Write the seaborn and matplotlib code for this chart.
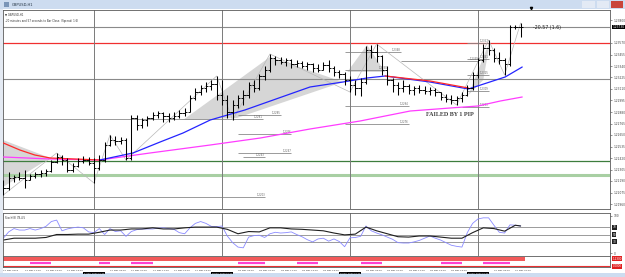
import numpy as np
import pandas as pd
import seaborn as sns
import matplotlib.pyplot as plt
from matplotlib.patches import Rectangle, Polygon
from matplotlib.transforms import blended_transform_factory

# ---- GBPUSD H1 bars, 24 Mar 07:00 -> 30 Mar 08:00 ----
first_open = 1.2215
highs = [1.2220, 1.2228, 1.2225, 1.2228, 1.2230, 1.2226, 1.2228, 1.2230, 1.2231, 1.2240,
         1.2247, 1.2245, 1.2242, 1.2237, 1.2242, 1.2244, 1.2243, 1.2242, 1.2245, 1.2258,
         1.2265, 1.2264, 1.2263, 1.2262, 1.2285, 1.2285, 1.2282, 1.2284, 1.2288, 1.2289,
         1.2288, 1.2287, 1.2288, 1.2290, 1.2292, 1.2305, 1.2312, 1.2315, 1.2318, 1.2320,
         1.2324, 1.2320, 1.2305, 1.2300, 1.2305, 1.2310, 1.2318, 1.2320, 1.2326, 1.2334,
         1.2346, 1.2344, 1.2343, 1.2342, 1.2341, 1.2340, 1.2339, 1.2338, 1.2337, 1.2336,
         1.2338, 1.2340, 1.2334, 1.2330, 1.2328, 1.2324, 1.2320, 1.2322, 1.2354, 1.2355,
         1.2356, 1.2345, 1.2334, 1.2322, 1.2318, 1.2320, 1.2316, 1.2314, 1.2315, 1.2314,
         1.2313, 1.2312, 1.2308, 1.2306, 1.2305, 1.2304, 1.2308, 1.2315, 1.2328, 1.2342,
         1.2356, 1.2360, 1.2352, 1.2348, 1.2342, 1.2375, 1.2375, 1.2377]
lows = [1.2205, 1.2210, 1.2218, 1.2220, 1.2212, 1.2220, 1.2222, 1.2223, 1.2224, 1.2228,
        1.2237, 1.2235, 1.2228, 1.2228, 1.2233, 1.2237, 1.2235, 1.2217, 1.2230, 1.2238,
        1.2254, 1.2255, 1.2256, 1.2240, 1.2240, 1.2270, 1.2272, 1.2274, 1.2280, 1.2282,
        1.2278, 1.2278, 1.2280, 1.2282, 1.2284, 1.2288, 1.2300, 1.2305, 1.2308, 1.2310,
        1.2300, 1.2295, 1.2282, 1.2280, 1.2292, 1.2295, 1.2302, 1.2308, 1.2310, 1.2320,
        1.2328, 1.2335, 1.2336, 1.2334, 1.2332, 1.2333, 1.2332, 1.2330, 1.2328, 1.2328,
        1.2330, 1.2328, 1.2324, 1.2322, 1.2315, 1.2308, 1.2305, 1.2304, 1.2316, 1.2342,
        1.2338, 1.2325, 1.2315, 1.2308, 1.2305, 1.2308, 1.2306, 1.2305, 1.2307, 1.2306,
        1.2305, 1.2304, 1.2300, 1.2298, 1.2296, 1.2295, 1.2298, 1.2304, 1.2310, 1.2322,
        1.2338, 1.2345, 1.2338, 1.2336, 1.2325, 1.2334, 1.2371, 1.2363]
closes = [1.2212, 1.2222, 1.2223, 1.2222, 1.2220, 1.2224, 1.2226, 1.2227, 1.2229, 1.2238,
          1.2243, 1.2240, 1.2230, 1.2234, 1.2239, 1.2240, 1.2237, 1.2232, 1.2240, 1.2255,
          1.2260, 1.2259, 1.2260, 1.2242, 1.2282, 1.2275, 1.2280, 1.2282, 1.2285, 1.2287,
          1.2284, 1.2282, 1.2284, 1.2287, 1.2288, 1.2302, 1.2308, 1.2312, 1.2314, 1.2316,
          1.2305, 1.2300, 1.2288, 1.2295, 1.2302, 1.2305, 1.2315, 1.2312, 1.2324, 1.2330,
          1.2342, 1.2340, 1.2338, 1.2340, 1.2336, 1.2337, 1.2334, 1.2336, 1.2332, 1.2330,
          1.2335, 1.2332, 1.2328, 1.2326, 1.2320, 1.2315, 1.2312, 1.2318, 1.2350, 1.2348,
          1.2344, 1.2330, 1.2320, 1.2315, 1.2312, 1.2314, 1.2310, 1.2312, 1.2310, 1.2309,
          1.2310, 1.2308, 1.2303, 1.2301, 1.2300, 1.2302, 1.2305, 1.2312, 1.2325, 1.2340,
          1.2352, 1.2350, 1.2342, 1.2340, 1.2336, 1.2373, 1.2373, 1.2373]

# moving averages (bar index, price)
blue_idx = [18.1, 24.3, 29.4, 33.7, 38.8, 45.3, 50.6, 57.5, 63.7, 68.2, 71.6, 80.0, 87.2, 94.1, 97.3]
blue_ma = [1.2240, 1.2247, 1.2258, 1.2267, 1.2280, 1.2290, 1.2300, 1.2313, 1.2318, 1.2322,
           1.2324, 1.2318, 1.2311, 1.2323, 1.2333]
red_left_idx = [0, 3.1, 5.9, 8.8, 18.1]
red_left = [1.2257, 1.2250, 1.2245, 1.2242, 1.2240]
red_right_idx = [71.6, 80.0, 87.2]
red_right = [1.2324, 1.2319, 1.2312]
mag_idx = [0, 8.8, 18.1, 27.5, 38.8, 48.2, 57.5, 66.9, 76.3, 83.8, 89.0, 93.2, 97.3]
mag_ma = [1.2243, 1.2241, 1.2240, 1.2247, 1.2255, 1.2262, 1.2271, 1.2279, 1.2289, 1.2292,
          1.2294, 1.2299, 1.2303]

# zigzag swings and shaded legs
zz_idx = [0, 10, 17, 20, 23, 40, 43, 50, 65, 70, 85, 91, 94, 97]
zz_price = [1.2205, 1.2247, 1.2217, 1.2265, 1.2240, 1.2324, 1.2280, 1.2346, 1.2308, 1.2356,
            1.2295, 1.2360, 1.2325, 1.2377]
shades = [
    [(-0.06, 1.2260), (8.8, 1.2242), (-0.06, 1.2213)],
    [(33.7, 1.2280), (50.0, 1.2343), (63.7, 1.2318), (43.8, 1.2282)],
    [(64.5, 1.2328), (68.2, 1.2355), (71.6, 1.2328)],
    [(87.2, 1.2305), (91.3, 1.2360), (90.0, 1.2320)],
]

# horizontal levels
full_levels = [1.2373, 1.2357, 1.2321, 1.2239, 1.2225]
full_colors = ['#8a8a8a', '#f03030', '#8a8a8a', '#3d7d3d', '#a8cfa3']
full_widths = [0.8, 0.9, 0.8, 0.9, 2.2]
seg_price = [1.2281, 1.2203, 1.2348, 1.2330, 1.2294, 1.2276, 1.2285, 1.2266, 1.2247, 1.2243,
             1.2339, 1.2293, 1.2357, 1.2341, 1.2325, 1.2309]
seg_start = [-0.06, -0.06, 64, 64, 64, 64, 44, 44, 44, 45, 74.5, 86, 87, 87, 87, 87]
seg_end = [48.7, 49.1, 74.5, 72, 76, 76, 52, 54, 54, 49, 89, 91, 91, 91, 91, 91]

# oscillator pane
osc_fast = [40, 57, 66, 62, 62, 66, 62, 66, 72, 85, 89, 60, 65, 68, 70, 68, 57, 55, 66, 50,
            66, 58, 60, 45, 58, 63, 65, 65, 65, 67, 68, 66, 64, 55, 52, 68, 80, 85, 80, 72,
            71, 73, 46, 28, 16, 14, 43, 47, 48, 42, 52, 56, 54, 55, 57, 50, 44, 36, 30, 38,
            40, 32, 38, 31, 17, 41, 42, 45, 73, 60, 54, 49, 43, 37, 28, 27, 27, 30, 34, 40,
            46, 40, 35, 28, 21, 18, 16, 55, 80, 92, 95, 95, 75, 56, 54, 76, 75, 73]
slow_idx = list(range(0, 97, 2)) + [97]
osc_slow = [35, 40, 40, 40, 42, 50, 50, 51, 51, 56, 62, 62, 65, 65, 68, 65, 65, 68, 70, 70,
            70, 64, 52, 58, 57, 68, 68, 65, 64, 62, 60, 54, 49, 51, 70, 60, 52, 44, 43, 46,
            46, 43, 40, 40, 55, 68, 66, 59, 75, 73]
osc_levels = [30, 50, 70]

# bottom strip highlights
pink_start = [5, 18, 24, 44, 55, 67, 82, 90]
pink_end = [9, 20, 28, 49, 59, 71, 86, 95]

# axis labels (the ones under the day markers are covered in the original)
price_ticks = [1.23800, 1.23570, 1.23455, 1.23340, 1.23225, 1.23110, 1.22995, 1.22880,
               1.22765, 1.22650, 1.22535, 1.22420, 1.22305, 1.22190, 1.22075, 1.21960]
time_ticks = [0, 4, 8, 12, 20, 24, 28, 32, 36, 44, 48, 52, 56, 60, 68, 72, 76, 80, 84, 92, 96]
time_labels = ['24 Mar 2023', '24 Mar 11:00', '24 Mar 15:00', '24 Mar 19:00',
               '27 Mar 03:00', '27 Mar 07:00', '27 Mar 11:00', '27 Mar 15:00', '27 Mar 19:00',
               '28 Mar 03:00', '28 Mar 07:00', '28 Mar 11:00', '28 Mar 15:00', '28 Mar 19:00',
               '29 Mar 03:00', '29 Mar 07:00', '29 Mar 11:00', '29 Mar 15:00', '29 Mar 19:00',
               '30 Mar 03:00', '30 Mar 07:00']
day_idx = [17, 41, 65, 89]
day_labels = ['27 Mar 2023 00:00', '28 Mar 2023 00:00', '29 Mar 2023 00:00', '30 Mar 2023 00:00']

bars = pd.DataFrame({'high': highs, 'low': lows, 'close': closes})
bars['open'] = [first_open] + closes[:-1]
bars['idx'] = np.arange(len(bars))

sns.set_theme(style='white')
plt.rcParams['font.family'] = ['DejaVu Sans']

W, H = 625, 277
fig = plt.figure(figsize=(W / 100, H / 100), dpi=100)


def px_axes(x0, y0, x1, y1):
    return fig.add_axes([x0 / W, 1 - y1 / H, (x1 - x0) / W, (y1 - y0) / H])


def chrome(x0, y0, x1, y1, color):
    fig.add_artist(Rectangle((x0 / W, 1 - y1 / H), (x1 - x0) / W, (y1 - y0) / H,
                             transform=fig.transFigure, color=color, lw=0, zorder=-5))


# window frame
chrome(0, 0, W, 9, '#cddcf0')
chrome(0, 273, W, H, '#cddcf0')
chrome(0, 9, 3, 273, '#e4eaf3')
chrome(582, 1, 595, 8, '#e3eaf5')
chrome(597, 1, 609, 8, '#e3eaf5')
chrome(611, 1, 623, 8, '#c9453a')
fig.text(12 / W, 1 - 4.8 / H, 'GBPUSD,H1', fontsize=2.6, color='#203040', va='center')
chrome(4, 2, 9, 7, '#7a95b8')

xlim = (-0.06, 113.76)
spine_c = '#5a5a5a'

# ---- main price pane ----
ax = px_axes(3, 10, 610, 209)
for poly in shades:
    ax.add_patch(Polygon(poly, closed=True, color='#d6d6d6', lw=0, zorder=1))
for lvl, c, w in zip(full_levels, full_colors, full_widths):
    ax.axhline(lvl, color=c, lw=w, zorder=2)
ax.hlines(seg_price, seg_start, seg_end, color='#8a8a8a', lw=0.6, zorder=2)
for p, e in zip(seg_price, seg_end):
    ax.text(e, p, f'{p:.4f}', fontsize=1.8, color='#606060', ha='right', va='bottom', zorder=3)
for d in day_idx:
    ax.axvline(d, color='#7a7a7a', lw=0.7, zorder=2)

sns.lineplot(x=zz_idx, y=zz_price, ax=ax, color='#b8b8b8', lw=0.5, zorder=3)
sns.lineplot(x=mag_idx, y=mag_ma, ax=ax, color='#ff3cff', lw=0.9, zorder=4)
sns.lineplot(x=red_left_idx, y=red_left, ax=ax, color='#ff2a2a', lw=0.9, zorder=4)
sns.lineplot(x=blue_idx, y=blue_ma, ax=ax, color='#2424ff', lw=0.9, zorder=4)
sns.lineplot(x=red_right_idx, y=red_right, ax=ax, color='#ff2a2a', lw=0.9, zorder=5)

ax.vlines(bars['idx'], bars['low'], bars['high'], color='black', lw=0.75, zorder=6)
ax.hlines(bars['open'], bars['idx'] - 0.45, bars['idx'], color='black', lw=0.65, zorder=6)
ax.hlines(bars['close'], bars['idx'], bars['idx'] + 0.45, color='black', lw=0.65, zorder=6)

ax.text(79.3, 1.2285, 'FAILED BY 1 PIP', fontsize=4.4, fontweight='bold',
        family=['Liberation Serif', 'DejaVu Serif'], color='#404040', va='center', zorder=7)
ax.text(99.4, 1.2373, '-20.57 (1.6)', fontsize=3.4, color='#202020', va='center', zorder=7)
ax.plot([99], [1.2392], marker='v', ms=1.6, color='black', clip_on=False)
ax.text(0.004, 0.985, '\u25bc GBPUSD,H1', transform=ax.transAxes, fontsize=1.9,
        color='#303030', va='top')
ax.text(0.004, 0.955, '-20 minutes and 57 seconds to Bar Close. (Spread: 1.6)',
        transform=ax.transAxes, fontsize=1.9, color='#303030', va='top')

ax.set_xlim(xlim)
ax.set_ylim(1.2191, 1.2390)
ax.set_xticks([])
ax.yaxis.tick_right()
ax.set_yticks(price_ticks)
ax.set_yticklabels([f'{v:.5f}' for v in price_ticks])
ax.tick_params(axis='y', labelsize=2.1, length=1.5, width=0.4, pad=1, colors='#404040', right=True)
ax.set_xlabel('')
ax.set_ylabel('')
ybox = blended_transform_factory(ax.transAxes, ax.transData)
ax.text(1.004, 1.2373, '1.23730', transform=ybox, fontsize=2.1, color='white', va='center',
        bbox=dict(boxstyle='square,pad=0.15', fc='black', ec='none'), clip_on=False)

# ---- oscillator pane ----
ai = px_axes(3, 213, 610, 256)
for lv in osc_levels:
    ai.axhline(lv, color='#8a8a8a', lw=0.6)
for d in day_idx:
    ai.axvline(d, color='#7a7a7a', lw=0.7)
sns.lineplot(x=bars['idx'], y=osc_fast, ax=ai, color='#8a8aff', lw=0.6)
sns.lineplot(x=slow_idx, y=osc_slow, ax=ai, color='#202020', lw=0.8)
ai.text(0.004, 0.93, 'Stoch(8) 78,4,5', transform=ai.transAxes, fontsize=1.9,
        color='#303030', va='top')
ai.set_xlim(xlim)
ai.set_ylim(-8.1, 108.1)
ai.set_xticks([])
ai.yaxis.tick_right()
ai.set_yticks([0, 100])
ai.tick_params(axis='y', labelsize=2.1, length=1.5, width=0.4, pad=1, colors='#404040', right=True)
ai.set_xlabel('')
ai.set_ylabel('')
obox = blended_transform_factory(ai.transAxes, ai.transData)
for lv in osc_levels:
    ai.text(1.004, lv, f'{lv}', transform=obox, fontsize=2.1, color='white', va='center',
            bbox=dict(boxstyle='square,pad=0.15', fc='#202020', ec='none'), clip_on=False)

# ---- bottom strip ----
ab = px_axes(3, 256, 610, 267)
ab.axhspan(0.55, 0.95, xmin=0, xmax=0.86, color='#f25a5a', lw=0)
ab.axhline(0.1, color='#e83030', lw=0.8)
ab.hlines([0.32] * len(pink_start), pink_start, pink_end, color='#ff40d0', lw=1.6)
ab.set_xlim(xlim)
ab.set_ylim(0, 1)
ab.set_yticks([])
ab.set_xticks(time_ticks)
ab.set_xticklabels(time_labels, ha='left')
ab.tick_params(axis='x', labelsize=1.7, length=0, pad=2, colors='#303030')
ab.set_xlabel('')
btr = blended_transform_factory(ab.transData, ab.transAxes)
for d, lab in zip(day_idx, day_labels):
    ab.text(d, -0.55, lab, transform=btr, fontsize=1.5, color='white', ha='center', va='center',
            bbox=dict(boxstyle='square,pad=0.2', fc='black', ec='none'), clip_on=False, zorder=10)
ab.text(1.004, 0.75, '1.2300', transform=ab.transAxes, fontsize=2.0, color='white', va='center',
        bbox=dict(boxstyle='square,pad=0.1', fc='#e02020', ec='none'), clip_on=False)
ab.text(1.004, 0.05, '0.0000', transform=ab.transAxes, fontsize=2.0, color='white', va='center',
        bbox=dict(boxstyle='square,pad=0.1', fc='#e02020', ec='none'), clip_on=False)

for a in (ax, ai, ab):
    for s in a.spines.values():
        s.set_color(spine_c)
        s.set_linewidth(0.6)
        s.set_visible(True)

fig.savefig('out.png', dpi=100)
